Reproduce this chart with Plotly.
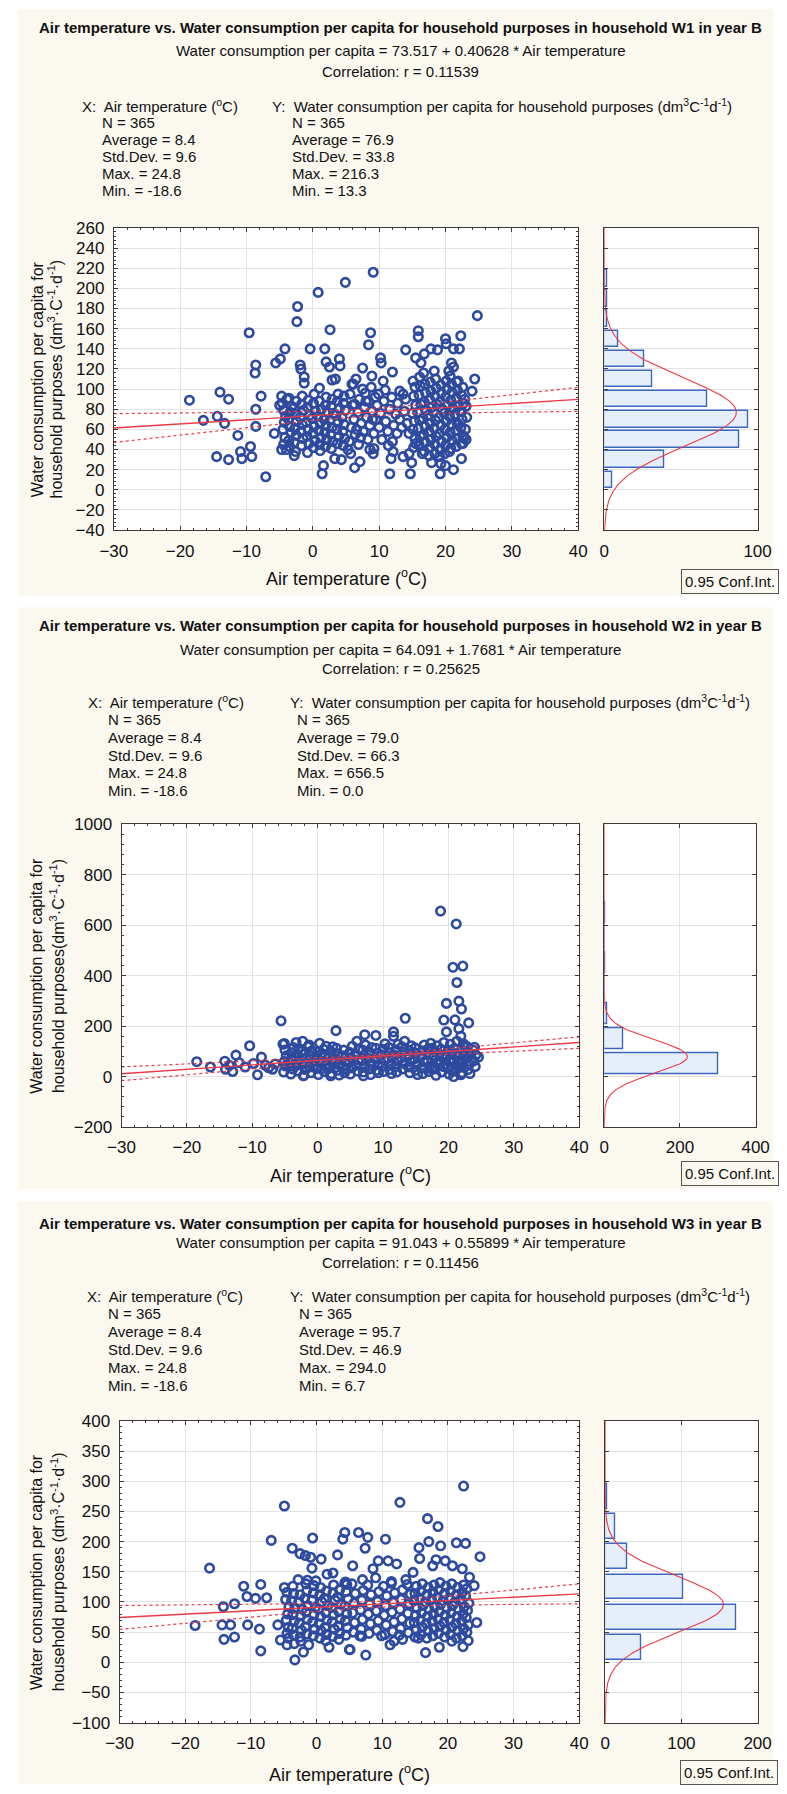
import numpy as np
import plotly.graph_objects as go

# ======================= DATA =======================
# ---- W1 ----
w1_temp = [
    -18.6, -16.5, -14.0, -12.7, -14.4, -13.3, -14.5, -12.7, -11.3, -10.9,
    -10.7, -9.4, -9.2, -9.6, -8.6, -8.7, -8.6, -8.6, -7.8, -7.1,
    -5.8, -5.6, -4.9, -4.2, -4.7, -3.9, -5.0, -4.7, -2.8, -2.3,
    -2.4, -1.9, -1.8, -1.3, -1.3, -0.4, 0.8, 1.0, 1.8, 2.6,
    2.0, 2.5, 2.9, 3.4, 4.0, 4.1, 4.9, 1.6, 1.4, 3.3,
    4.3, 9.1, 24.8, 8.7, 8.4, 10.2, 10.3, 7.5, 6.5, 6.1,
    8.9, 10.6, 12.0, 13.1, 14.0, 15.9, 15.9, 15.5, 16.8, 16.3,
    15.1, 17.8, 18.8, 20.0, 20.1, 22.3, 21.2, 22.1, 20.9, 21.2,
    20.5, 24.4, 21.9, 24.0, 22.8, 22.6, 22.4, 21.2, 20.0, 19.2,
    19.3, 17.9, 14.7, 14.9, 11.6, 11.8, 12.1, 9.1, 9.2, 6.3,
    7.1, 5.7, 14.5, 13.6, 15.5, 16.5, 18.4, 20.6, 21.9, 22.4,
    23.1,
    -4.4, -4.2, -4.5, -4.3, -4.1, -4.4, -4.6, -4.0,
    -3.5, -3.6, -3.3, -3.5, -3.7, -3.4, -3.2, -3.6,
    -2.6, -2.8, -2.5, -2.7, -2.4, -2.6, -2.9, -2.5,
    -1.7, -1.5, -1.8, -1.6, -1.9, -1.4, -1.7, -1.6,
    -0.8, -0.6, -0.9, -0.7, -1.0, -0.5, -0.8, -0.7,
    0.1, 0.3, 0.0, 0.2, -0.1, 0.4, 0.1, 0.2,
    1.0, 1.2, 0.9, 1.1, 0.8, 1.3, 1.0, 1.1,
    1.9, 2.1, 1.8, 2.0, 1.7, 2.2, 1.9, 2.0,
    2.8, 3.0, 2.7, 2.9, 2.6, 3.1, 2.8, 2.9,
    3.7, 3.9, 3.6, 3.8, 3.5, 4.0, 3.7, 3.8,
    4.6, 4.8, 4.5, 4.7, 4.4, 4.9, 4.6, 4.7,
    5.5, 5.8, 6.2, 6.0, 5.6, 6.4, 6.8, 7.0, 7.3, 6.9,
    7.6, 7.8, 8.1, 7.9, 8.3, 8.6, 8.4, 8.9, 9.2, 8.8,
    9.5, 9.7, 10.0, 9.9, 10.4, 10.2, 10.7, 11.0, 10.9, 11.3,
    11.6, 11.9, 12.2, 12.0, 12.5, 12.8, 13.1, 12.7, 13.4, 13.8,
    14.2, 14.0, 14.5, 13.6, 11.4,
    5.3, 6.6, 7.2, 8.0, 8.6, 9.4, 5.9, 7.5, 9.0, 6.3,
    15.2, 15.4, 15.1, 15.3, 15.0, 15.5, 15.2, 15.4,
    16.0, 16.2, 15.9, 16.1, 15.8, 16.3, 16.0, 16.2, 16.1,
    16.8, 17.0, 16.7, 16.9, 16.6, 17.1, 16.8, 17.0, 16.9, 16.7,
    17.6, 17.8, 17.5, 17.7, 17.4, 17.9, 17.6, 17.8, 17.7, 17.5,
    18.4, 18.6, 18.3, 18.5, 18.2, 18.7, 18.4, 18.6, 18.5, 18.3,
    19.2, 19.4, 19.1, 19.3, 19.0, 19.5, 19.2, 19.4, 19.3, 19.1,
    20.0, 20.2, 19.9, 20.1, 19.8, 20.3, 20.0, 20.2, 20.1, 19.9,
    20.8, 21.0, 20.7, 20.9, 20.6, 21.1, 20.8, 21.0, 20.9, 20.7,
    21.6, 21.8, 21.5, 21.7, 21.4, 21.9, 21.6, 21.8, 21.7,
    22.4, 22.6, 22.3, 22.5, 22.2, 22.7, 22.4, 22.6,
    23.0, 23.2, 22.9, 23.1,
]
w1_water = [
    89, 69, 97, 90, 73, 66, 33, 30, 54, 38,
    31, 43, 33, 156, 124, 116, 80, 63, 93, 13,
    56, 126, 130, 140, 93, 90, 84, 40, 34, 182,
    167, 124, 120, 112, 106, 140, 196, 101, 140, 159,
    127, 122, 109, 110, 130, 123, 206, 24, 16, 31,
    30, 216, 173, 156, 144, 131, 126, 121, 110, 105,
    113, 108, 117, 98, 139, 158, 152, 131, 135, 126,
    108, 140, 139, 150, 145, 153, 140, 140, 126, 122,
    118, 110, 108, 98, 52, 46, 31, 20, 24, 16,
    26, 27, 16, 27, 16, 31, 38, 36, 41, 22,
    28, 36, 36, 33, 46, 36, 36, 38, 65, 78,
    83,
    45, 52, 60, 67, 73, 79, 86, 40,
    43, 49, 57, 63, 70, 77, 83, 91,
    38, 47, 54, 61, 68, 75, 81, 88,
    44, 51, 58, 65, 72, 79, 85, 93,
    37, 46, 53, 60, 67, 74, 82, 89,
    42, 49, 56, 63, 71, 78, 86, 95,
    45, 52, 59, 66, 73, 80, 88, 39,
    43, 50, 57, 64, 70, 77, 84, 92,
    41, 48, 55, 62, 69, 76, 83, 90,
    46, 53, 60, 67, 74, 81, 88, 95,
    44, 51, 58, 65, 72, 79, 86, 93,
    48, 62, 70, 84, 95, 55, 77, 90, 66, 45,
    58, 82, 72, 96, 50, 64, 88, 78, 56, 102,
    70, 84, 62, 95, 50, 76, 88, 68, 99, 58,
    80, 92, 64, 48, 75, 86, 70, 56, 62, 78,
    66, 90, 56, 95, 44,
    40, 60, 52, 88, 40, 92, 105, 100, 70, 85,
    42, 51, 60, 68, 76, 84, 93, 102,
    45, 53, 61, 69, 77, 85, 94, 103, 112,
    38, 47, 55, 63, 71, 79, 87, 96, 105, 116,
    42, 50, 58, 66, 74, 82, 90, 98, 107, 34,
    45, 53, 61, 69, 77, 85, 93, 101, 110, 118,
    40, 48, 56, 64, 72, 80, 88, 96, 104, 33,
    44, 52, 60, 68, 76, 84, 92, 100, 108, 36,
    41, 49, 57, 65, 73, 81, 89, 97, 105, 113,
    43, 51, 59, 67, 75, 83, 91, 99, 107,
    46, 54, 62, 70, 78, 86, 94, 102,
    60, 72, 90, 50,
]
w1_bin_centers = [10, 30, 50, 70, 90, 110, 130, 150, 170, 190, 210]
w1_bin_counts = [5, 39, 88, 94, 67, 31, 26, 9, 2, 2, 2]
w1_reg = [73.517, 0.40628, 0.11539]          # intercept, slope, r
w1_xstats = [365, 8.4, 9.6, 24.8, -18.6]     # N, mean, sd, max, min
w1_ystats = [365, 76.9, 33.8, 216.3, 13.3]

# ---- W2 ----
w2_temp = [
    -18.5, -16.4, -14.2, -14.1, -13.0, -12.5, -10.4, -11.1, -9.2, -8.6,
    -5.6, -6.9, -5.1, 2.8, 7.2, 8.9, 11.6, 11.6, 13.4, 18.8,
    21.2, 20.7, 22.2, 21.3, 19.7, 21.6, 22.0, 19.3, 21.0, 23.1,
    19.7, 21.6, 21.9, 24.0, 24.6, 20.8, 21.9, 2.0, 7.0, -2.2,
    -7.5, -6.5, -8.0, -9.8, -12.0, -13.5,
    -5.2, -4.9, -5.1, -4.8, -5.0, -5.3,
    -4.1, -3.8, -4.2, -3.9, -4.0, -3.7,
    -3.0, -3.2, -2.8, -3.1, -2.9, -3.3,
    -2.1, -1.9, -2.2, -1.8, -2.0, -2.3,
    -1.0, -1.2, -0.8, -1.1, -0.9, -1.3,
    0.1, -0.2, 0.2, -0.1, 0.0, 0.3,
    1.0, 1.2, 0.8, 1.1, 0.9, 1.3,
    2.1, 1.9, 2.2, 1.8, 2.0, 2.3,
    3.0, 3.2, 2.8, 3.1, 2.9, 3.3,
    4.1, 3.9, 4.2, 3.8, 4.0, 4.3,
    5.0, 5.2, 4.8, 5.1, 4.9, 5.3,
    6.1, 5.9, 6.2, 5.8, 6.0, 6.3,
    7.0, 7.2, 6.8, 7.1, 6.9, 7.3,
    8.1, 7.9, 8.2, 7.8, 8.0, 8.3,
    9.0, 9.2, 8.8, 9.1, 8.9, 9.3,
    10.1, 9.9, 10.2, 9.8, 10.0, 10.3,
    11.0, 11.2, 10.8, 11.1, 10.9, 11.3,
    12.1, 11.9, 12.2, 11.8, 12.0, 12.3,
    13.0, 13.2, 12.8, 13.1, 12.9, 13.3,
    14.1, 13.9, 14.2, 13.8, 14.0, 14.3,
    15.0, 15.2, 14.8, 15.1, 14.9, 15.3,
    16.1, 15.9, 16.2, 15.8, 16.0, 16.3,
    17.0, 17.2, 16.8, 17.1, 16.9, 17.3,
    18.1, 17.9, 18.2, 17.8, 18.0, 18.3,
    19.0, 19.2, 18.8, 19.1, 18.9, 19.3,
    20.1, 19.9, 20.2, 19.8, 20.0, 20.3,
    21.0, 21.2, 20.8, 21.1, 20.9, 21.3,
    22.1, 21.9, 22.2, 21.8, 22.0, 22.3,
    23.0, 23.2, 22.8, 23.1, 22.9, 23.3,
    24.1, 23.9, 24.2, 23.8,
    17.5, 18.5, 19.5, 20.5, 21.5, 22.5, 17.5, 18.5, 19.5, 20.5, 21.5, 22.5,
    -4.5, -3.5, -2.5, -1.5, -0.5, 0.5, 1.5, 2.5, 3.5,
]
w2_water = [
    59, 38, 61, 29, 20, 85, 122, 38, 7, 77,
    221, 29, 131, 182, 166, 163, 177, 160, 231, 656,
    605, 433, 438, 373, 290, 299, 268, 224, 225, 213,
    177, 190, 160, 116, 77, 0, 7, 3, 3, 3,
    35, 50, 45, 52, 55, 45,
    18, 42, 60, 82, 105, 128,
    10, 30, 52, 70, 95, 115,
    22, 45, 65, 88, 110, 135,
    5, 28, 50, 72, 92, 140,
    15, 38, 58, 80, 102, 125,
    8, 32, 55, 75, 98, 132,
    20, 44, 62, 85, 108, 120,
    12, 36, 58, 78, 100, 118,
    25, 48, 68, 90, 112, 6,
    15, 40, 60, 82, 105, 30,
    10, 34, 55, 75, 96, 120,
    22, 45, 66, 88, 140, 110,
    18, 40, 62, 84, 105, 125,
    8, 30, 52, 72, 95, 115,
    25, 48, 70, 92, 112, 15,
    20, 42, 64, 86, 108, 130,
    28, 50, 72, 95, 115, 12,
    18, 40, 62, 84, 106, 128,
    30, 52, 74, 96, 118, 140,
    15, 38, 60, 82, 104, 122,
    25, 48, 70, 92, 114, 8,
    12, 35, 58, 80, 102, 125,
    20, 42, 65, 88, 110, 132,
    5, 30, 55, 78, 100, 122,
    18, 40, 62, 85, 108, 135,
    10, 35, 58, 80, 104, 128,
    22, 45, 68, 90, 112, 140,
    15, 38, 60, 84, 106, 130,
    28, 50, 72, 95, 118, 12,
    40, 62, 85, 105,
    30, 48, 72, 95, 58, 82, 112, 90, 50, 25, 35, 120,
    60, 80, 100, 118, 45, 88, 30, 66, 52,
]
w2_bin_centers = [50, 150, 250, 350, 450, 550, 650]
w2_bin_counts = [301, 51, 8, 1, 2, 0, 2]
w2_reg = [64.091, 1.7681, 0.25625]
w2_xstats = [365, 8.4, 9.6, 24.8, -18.6]
w2_ystats = [365, 79.0, 66.3, 656.5, 0.0]

# ---- W3 ----
w3_temp = [
    -4.9, -6.9, -16.3, -0.6, -3.7, -2.5, -1.7, -0.9, 0.7, 3.2,
    4.3, 4.0, -0.7, 1.6, 2.5, -2.8, -1.4, -0.1, -4.9, 4.3,
    -11.1, -8.5, -10.6, -9.3, -7.6, -12.5, -14.2, -18.5, -14.4, -13.1,
    -10.5, -8.7, -14.1, -12.5, -8.5, -5.9, -5.5, -3.3, -2.0, -4.5,
    -3.4, -1.2, 1.9, 5.0,
    22.4, 12.7, 16.9, 18.5, 10.5, 6.4, 7.8, 7.4, 21.3, 22.7,
    24.9, 17.1, 15.6, 15.7, 18.9, 18.2, 19.6, 17.7, 20.7, 22.2,
    5.5, 8.6, 9.4, 10.9, 12.2, 7.0, 11.4, 4.4, 13.6, 14.7,
    23.3, 24.0, 24.4, 22.3, 16.6, 18.7, 11.2, 11.8, 7.5, 5.1,
    6.9, 9.9, 13.1, 15.5, 20.6,
    -4.5, -4.3, -4.6, -4.4, -4.2, -4.7, -4.5, -4.3,
    -3.5, -3.7, -3.4, -3.6, -3.3, -3.8, -3.5, -3.6,
    -2.5, -2.3, -2.6, -2.4, -2.2, -2.7, -2.5, -2.4,
    -1.5, -1.7, -1.4, -1.6, -1.3, -1.8, -1.5, -1.6,
    -0.5, -0.3, -0.6, -0.4, -0.2, -0.7, -0.5, -0.4,
    0.5, 0.7, 0.4, 0.6, 0.3, 0.8, 0.5, 0.6,
    1.5, 1.3, 1.6, 1.4, 1.7, 1.2, 1.5, 1.4,
    2.5, 2.7, 2.4, 2.6, 2.3, 2.8, 2.5, 2.6,
    3.5, 3.3, 3.6, 3.4, 3.7, 3.2, 3.5, 3.4,
    4.5, 4.7, 4.4, 4.6, 4.3, 4.8, 4.5, 4.6,
    5.6, 5.8, 5.5, 5.7, 5.9, 5.4,
    6.8, 7.0, 6.7, 6.9, 7.1, 6.6,
    8.0, 8.2, 7.9, 8.1, 8.3, 7.8,
    9.2, 9.4, 9.1, 9.3, 9.5, 9.0,
    10.4, 10.6, 10.3, 10.5, 10.7, 10.2,
    11.6, 11.8, 11.5, 11.7, 11.9, 11.4,
    12.8, 13.0, 12.7, 12.9, 13.1, 12.6,
    14.0, 14.2, 13.9, 14.1, 14.3, 13.8,
    15.0, 15.2, 14.9, 15.1, 15.3, 14.8, 15.0, 15.2,
    15.9, 16.1, 15.8, 16.0, 16.2, 15.7, 15.9, 16.1,
    16.8, 17.0, 16.7, 16.9, 17.1, 16.6, 16.8, 17.0,
    17.7, 17.9, 17.6, 17.8, 18.0, 17.5, 17.7, 17.9,
    18.6, 18.8, 18.5, 18.7, 18.9, 18.4, 18.6, 18.8,
    19.5, 19.7, 19.4, 19.6, 19.8, 19.3, 19.5, 19.7,
    20.4, 20.6, 20.3, 20.5, 20.7, 20.2, 20.4, 20.6,
    21.3, 21.5, 21.2, 21.4, 21.6, 21.1, 21.3, 21.5,
    22.2, 22.4, 22.1, 22.3, 22.5, 22.0, 22.2, 22.4,
    22.9, 23.1, 22.8, 23.0, 23.2, 22.7, 22.9, 23.1,
]
w3_water = [
    259, 202, 156, 206, 189, 180, 177, 174, 171, 178,
    215, 204, 156, 146, 148, 137, 136, 135, 124, 131,
    126, 129, 109, 106, 107, 97, 92, 61, 62, 62,
    62, 55, 38, 42, 19, 62, 37, 4, 17, 29,
    31, 29, 25, 21,
    292, 265, 238, 225, 204, 215, 207, 189, 198, 197,
    175, 200, 190, 172, 193, 170, 168, 160, 160, 155,
    160, 155, 168, 168, 163, 137, 134, 133, 137, 149,
    141, 127, 66, 26, 16, 25, 29, 35, 12, 21,
    43, 44, 38, 40, 35,
    48, 58, 70, 80, 92, 104, 116, 40,
    45, 56, 68, 79, 90, 102, 114, 126,
    42, 53, 65, 77, 88, 100, 112, 35,
    47, 59, 71, 83, 94, 106, 118, 130,
    44, 55, 67, 79, 91, 103, 115, 127,
    40, 52, 64, 76, 88, 100, 112, 124,
    46, 58, 70, 82, 94, 106, 118, 36,
    43, 55, 67, 79, 91, 103, 115, 128,
    48, 60, 72, 84, 96, 108, 120, 38,
    45, 57, 69, 81, 93, 105, 117, 129,
    50, 66, 82, 98, 114, 130,
    55, 71, 87, 103, 119, 44,
    48, 64, 80, 96, 112, 128,
    53, 69, 85, 101, 117, 140,
    46, 62, 78, 94, 110, 126,
    51, 67, 83, 99, 115, 131,
    56, 72, 88, 104, 120, 45,
    49, 65, 81, 97, 113, 129,
    42, 54, 66, 78, 90, 102, 114, 126,
    46, 58, 70, 82, 94, 106, 118, 130,
    40, 52, 64, 76, 88, 100, 112, 124,
    44, 56, 68, 80, 92, 104, 116, 128,
    48, 60, 72, 84, 96, 108, 120, 132,
    42, 54, 66, 78, 90, 102, 114, 126,
    46, 58, 70, 82, 94, 106, 118, 130,
    40, 52, 64, 76, 88, 100, 112, 124,
    44, 56, 68, 80, 92, 104, 116, 128,
    50, 62, 74, 86, 98, 110, 122, 36,
]
w3_bin_centers = [25, 75, 125, 175, 225, 275]
w3_bin_counts = [47, 172, 102, 29, 13, 2]
w3_reg = [91.043, 0.55899, 0.11456]
w3_xstats = [365, 8.4, 9.6, 24.8, -18.6]
w3_ystats = [365, 95.7, 46.9, 294.0, 6.7]

assert len(w1_temp) == len(w1_water)
assert len(w2_temp) == len(w2_water)
assert len(w3_temp) == len(w3_water)

# ======================= STYLE / LAYOUT =======================
W, H = 787, 1794
FONT = "Liberation Sans, Arial, sans-serif"
BLUE = "#2E4A9E"
RED = "#EC3A46"
CREAM = "#FBF8EF"
GRID = "#E3E3E3"
AXC = "#3A3A3A"
TXT = 15      # header / statistics text size
TICK = 17     # tick label size
XTITLE = 18   # x axis title size
YTITLE = 16   # y axis title size


def px(v):
    return v / W


def py(v):
    return 1 - v / H


panels = [
    dict(temp=w1_temp, water=w1_water, bc=w1_bin_centers, bn=w1_bin_counts, bw=20,
         reg=w1_reg, xs=w1_xstats, ys=w1_ystats, hh="W1",
         cream=(0, 593), title_y=19, eq_y=42, corr_y=63, st_y0=98, st_dy=17.1,
         xl=68, xv=89, yl=265, yv=286,
         sx=(103.5, 585), sy=(221.3, 526.7), hx=(612, 771),
         yr=(-40, 260), ydt=20, ymin=4, hr=(0, 100), htv=[0, 100],
         xt_y=575, yt1=24, yt2=43, conf_x=692, conf_y=578.5,
         ylab2="household purposes (dm<sup>3</sup>·C<sup>-1</sup>·d<sup>-1</sup>)"),
    dict(temp=w2_temp, water=w2_water, bc=w2_bin_centers, bn=w2_bin_counts, bw=100,
         reg=w2_reg, xs=w2_xstats, ys=w2_ystats, hh="W2",
         cream=(605, 1193), title_y=623, eq_y=647, corr_y=667, st_y0=700, st_dy=18.0,
         xl=75, xv=95, yl=284, yv=291,
         sx=(111.5, 586), sy=(824, 1130), hx=(612, 769),
         yr=(-200, 1000), ydt=200, ymin=40, hr=(0, 400), htv=[0, 200, 400],
         xt_y=1178, yt1=23, yt2=44, conf_x=692, conf_y=1177,
         ylab2="household purposes(dm<sup>3</sup>·C<sup>-1</sup>·d<sup>-1</sup>)"),
    dict(temp=w3_temp, water=w3_water, bc=w3_bin_centers, bn=w3_bin_counts, bw=50,
         reg=w3_reg, xs=w3_xstats, ys=w3_ystats, hh="W3",
         cream=(1205, 1794), title_y=1227, eq_y=1247, corr_y=1267, st_y0=1300, st_dy=18.2,
         xl=74, xv=95, yl=284, yv=293,
         sx=(109.5, 586), sy=(1427, 1732), hx=(613, 771),
         yr=(-100, 400), ydt=50, ymin=10, hr=(0, 200), htv=[0, 100, 200],
         xt_y=1783, yt1=24, yt2=45, conf_x=691, conf_y=1782,
         ylab2="household purposes (dm<sup>3</sup>·C<sup>-1</sup>·d<sup>-1</sup>)"),
]

fig = go.Figure()
shapes = []
annotations = []
layout_axes = {}


def ann(text, x, y, size=TXT, xanchor="left", bold=False, **kw):
    if bold:
        text = "<b>" + text + "</b>"
    d = dict(text=text, x=px(x), y=py(y), xref="paper", yref="paper",
             xanchor=xanchor, yanchor="middle", showarrow=False,
             font=dict(family=FONT, size=size, color="#111"))
    d.update(kw)
    annotations.append(d)


for i, p in enumerate(panels):
    ks = 2 * i + 1
    kh = 2 * i + 2
    xs_name = "x" if ks == 1 else f"x{ks}"
    ys_name = "y" if ks == 1 else f"y{ks}"
    xh_name, yh_name = f"x{kh}", f"y{kh}"

    # backgrounds
    shapes.append(dict(type="rect", xref="paper", yref="paper", layer="below",
                       x0=px(4), x1=1, y0=py(p["cream"][1]), y1=py(p["cream"][0]),
                       fillcolor=CREAM, line=dict(width=0)))
    for (xa, xb) in (p["sx"], p["hx"]):
        shapes.append(dict(type="rect", xref="paper", yref="paper", layer="below",
                           x0=px(xa), x1=px(xb), y0=py(p["sy"][1]), y1=py(p["sy"][0]),
                           fillcolor="white", line=dict(width=0)))

    # scatter points
    fig.add_trace(go.Scatter(
        x=p["temp"], y=p["water"], mode="markers", xaxis=xs_name, yaxis=ys_name,
        marker=dict(symbol="circle-open", size=8.5, color=BLUE,
                    line=dict(width=2.6, color=BLUE)),
        hoverinfo="skip"))

    # regression line and 95% confidence band (from the stated fit statistics)
    a, b, r = p["reg"]
    n, xm, xsd = p["xs"][0], p["xs"][1], p["xs"][2]
    ysd = p["ys"][2]
    xx = np.linspace(-30, 40, 141)
    yhat = a + b * xx
    se = ysd * np.sqrt(1 - r ** 2) * np.sqrt((n - 1) / (n - 2))
    half = 1.9666 * se * np.sqrt(1 / n + (xx - xm) ** 2 / ((n - 1) * xsd ** 2))
    fig.add_trace(go.Scatter(x=xx, y=yhat, mode="lines", xaxis=xs_name, yaxis=ys_name,
                             line=dict(color=RED, width=1.4), hoverinfo="skip"))
    for sgn in (-1, 1):
        fig.add_trace(go.Scatter(x=xx, y=yhat + sgn * half, mode="lines",
                                 xaxis=xs_name, yaxis=ys_name,
                                 line=dict(color=RED, width=1.2, dash="dot"),
                                 hoverinfo="skip"))

    # histogram
    fig.add_trace(go.Bar(x=p["bn"], y=p["bc"], orientation="h", width=0.82 * p["bw"],
                         xaxis=xh_name, yaxis=yh_name,
                         marker=dict(color="#E5EFF9", line=dict(color="#3D66BE", width=1.4)),
                         hoverinfo="skip"))
    ymean = p["ys"][1]
    yy = np.linspace(p["yr"][0], p["yr"][1], 400)
    dens = n * p["bw"] / (ysd * np.sqrt(2 * np.pi)) * np.exp(-0.5 * ((yy - ymean) / ysd) ** 2)
    fig.add_trace(go.Scatter(x=dens, y=yy, mode="lines", xaxis=xh_name, yaxis=yh_name,
                             line=dict(color=RED, width=1.1), hoverinfo="skip"))

    # axes
    common = dict(showline=True, linecolor=AXC, linewidth=1, mirror="ticks",
                  ticks="inside", ticklen=4, tickcolor=AXC, zeroline=False,
                  showgrid=True, gridcolor=GRID, gridwidth=1,
                  tickfont=dict(family=FONT, size=TICK, color="#111"))
    dom_sy = [py(p["sy"][1]), py(p["sy"][0])]
    layout_axes["xaxis" if ks == 1 else f"xaxis{ks}"] = dict(
        common, domain=[px(p["sx"][0]), px(p["sx"][1])], anchor=ys_name,
        range=[-30, 40], tick0=-30, dtick=10, ticklabelstandoff=5,
        minor=dict(dtick=2, ticks="inside", ticklen=2, tickcolor=AXC, showgrid=False))
    layout_axes["yaxis" if ks == 1 else f"yaxis{ks}"] = dict(
        common, domain=dom_sy, anchor=xs_name,
        range=list(p["yr"]), tick0=p["yr"][0], dtick=p["ydt"], ticklabelstandoff=5,
        minor=dict(dtick=p["ymin"], ticks="inside", ticklen=2, tickcolor=AXC, showgrid=False))
    layout_axes[f"xaxis{kh}"] = dict(
        common, domain=[px(p["hx"][0]), px(p["hx"][1])], anchor=yh_name,
        range=list(p["hr"]), tickvals=p["htv"], ticklabelstandoff=5)
    layout_axes[f"yaxis{kh}"] = dict(
        common, domain=dom_sy, anchor=xh_name,
        range=list(p["yr"]), tick0=p["yr"][0], dtick=p["ydt"], showticklabels=False)

    # header texts
    xc = 401
    ann(f"Air temperature vs. Water consumption per capita for household purposes in household {p['hh']} in year B",
        xc, p["title_y"], xanchor="center", bold=True)
    ann(f"Water consumption per capita = {a:.3f} + {b:g} * Air temperature",
        xc, p["eq_y"], xanchor="center")
    ann(f"Correlation: r = {r:.5f}", xc, p["corr_y"], xanchor="center")

    xsl = p["xs"]
    ysl = p["ys"]
    ann("X:  Air temperature (<sup>o</sup>C)", p["xl"], p["st_y0"])
    ann("Y:  Water consumption per capita for household purposes (dm<sup>3</sup>C<sup>-1</sup>d<sup>-1</sup>)",
        p["yl"], p["st_y0"])
    labels = ["N = ", "Average = ", "Std.Dev. = ", "Max. = ", "Min. = "]
    for j in range(5):
        yline = p["st_y0"] + (j + 1) * p["st_dy"]
        xv = f"{xsl[j]:d}" if j == 0 else f"{xsl[j]:.1f}"
        yv = f"{ysl[j]:d}" if j == 0 else f"{ysl[j]:.1f}"
        ann(labels[j] + xv, p["xv"], yline)
        ann(labels[j] + yv, p["yv"], yline)

    # axis titles
    ann("Air temperature (<sup>o</sup>C)", (p["sx"][0] + p["sx"][1]) / 2, p["xt_y"],
        size=XTITLE, xanchor="center")
    ymid = (p["sy"][0] + p["sy"][1]) / 2
    ann("Water consumption per capita for", p["yt1"], ymid, size=YTITLE,
        xanchor="center", textangle=-90)
    ann(p["ylab2"], p["yt2"], ymid, size=YTITLE, xanchor="center", textangle=-90)

    # confidence legend box
    ann("0.95 Conf.Int.", p["conf_x"], p["conf_y"], size=TXT,
        bordercolor="#555", borderwidth=1, borderpad=3, bgcolor=CREAM)

fig.update_layout(
    width=W, height=H, margin=dict(l=0, r=0, t=0, b=0),
    paper_bgcolor="white", plot_bgcolor="rgba(0,0,0,0)",
    showlegend=False, shapes=shapes, annotations=annotations,
    bargap=0, **layout_axes)

fig.write_html("out.html")
